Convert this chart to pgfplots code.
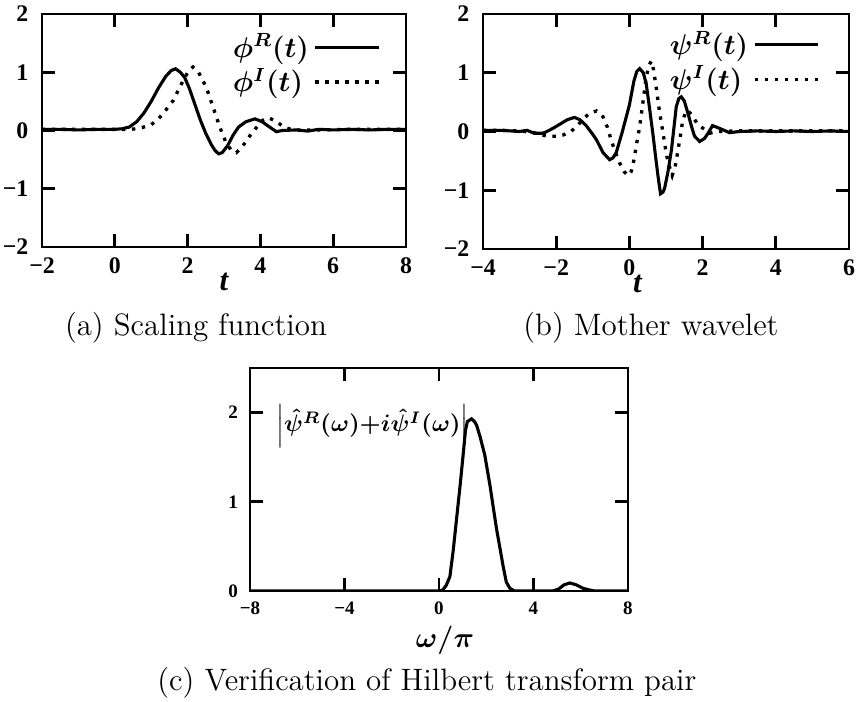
\documentclass[border=0pt]{standalone}
\usepackage{fontspec}
\usepackage{amsmath}
\usepackage{pgfplots}
\pgfplotsset{compat=1.18}
\newfontfamily\tnr{Liberation Serif}

% data
\pgfplotstableread{
x y
-2 0.02
-1.5 0.02
-1 0.01
-0.5 0.02
0 0.02
0.2 0.03
0.4 0.06
0.6 0.15
0.8 0.30
1.0 0.50
1.2 0.73
1.4 0.93
1.55 1.03
1.67 1.06
1.8 1.00
1.92 0.91
2.05 0.72
2.2 0.45
2.35 0.18
2.5 -0.05
2.65 -0.24
2.75 -0.34
2.85 -0.40
2.95 -0.38
3.1 -0.26
3.25 -0.08
3.4 0.06
3.6 0.15
3.85 0.20
4.05 0.15
4.25 0.06
4.44 -0.02
4.6 0.0
5.0 0.01
5.3 -0.01
5.6 0.02
6 0.01
6.5 0.02
7 0.01
7.5 0.02
8 0.02
}\phiR
\pgfplotstableread{
x y
-2 0.02
-1 0.02
0 0.02
0.4 0.02
0.6 0.03
0.8 0.06
1.0 0.10
1.2 0.20
1.4 0.35
1.6 0.51
1.8 0.76
1.92 0.91
2.05 1.04
2.15 1.09
2.3 1.00
2.45 0.82
2.56 0.66
2.7 0.40
2.89 0.05
3.05 -0.20
3.2 -0.34
3.34 -0.38
3.5 -0.28
3.7 -0.10
3.89 0.05
4.05 0.17
4.21 0.22
4.4 0.17
4.67 0.05
4.9 0.01
5.5 0.01
6.5 0.02
8 0.02
}\phiI
\pgfplotstableread{
x y
-4 0.02
-3.5 0.02
-3 0.0
-2.8 0.02
-2.6 -0.03
-2.4 -0.03
-2.32 -0.02
-2.1 0.05
-1.91 0.12
-1.7 0.20
-1.5 0.24
-1.35 0.20
-1.18 0.10
-1.0 -0.05
-0.9 -0.14
-0.72 -0.36
-0.54 -0.48
-0.45 -0.45
-0.36 -0.36
-0.2 -0.02
0.0 0.45
0.12 0.85
0.2 1.02
0.28 1.07
0.38 1.00
0.46 0.81
0.55 0.40
0.64 -0.03
0.72 -0.45
0.78 -0.75
0.85 -1.06
0.92 -1.03
0.96 -0.97
1.05 -0.70
1.15 -0.31
1.28 0.42
1.35 0.56
1.42 0.59
1.50 0.52
1.60 0.31
1.70 0.08
1.78 -0.08
1.92 -0.17
2.05 -0.12
2.15 -0.03
2.27 0.10
2.4 0.07
2.55 0.03
2.74 -0.02
3 0.0
3.5 0.01
4 0.0
4.5 0.01
5 0.0
5.5 0.01
6 0.0
}\psiR
\pgfplotstableread{
x y
-4 0.02
-3.5 0.02
-3 0.01
-2.6 -0.02
-2.4 -0.06
-2.2 -0.08
-2.0 -0.08
-1.81 -0.06
-1.6 0.0
-1.45 0.08
-1.25 0.22
-1.09 0.31
-0.9 0.35
-0.72 0.25
-0.6 0.07
-0.5 -0.14
-0.38 -0.36
-0.27 -0.53
-0.15 -0.68
-0.04 -0.75
0.05 -0.68
0.12 -0.50
0.2 -0.20
0.28 0.08
0.37 0.50
0.46 0.92
0.53 1.12
0.6 1.20
0.66 1.05
0.73 0.76
0.82 0.35
0.92 -0.03
1.0 -0.35
1.06 -0.53
1.17 -0.75
1.25 -0.60
1.33 -0.31
1.40 -0.05
1.46 0.20
1.56 0.36
1.65 0.32
1.73 0.25
1.85 0.14
2.0 0.06
2.19 -0.03
2.4 0.0
3 0.01
4 0.01
5 0.01
6 0.01
}\psiI
\pgfplotstableread{
x y
-8 0
-4 0
0 0
0.15 0.01
0.3 0.06
0.46 0.16
0.6 0.45
0.74 0.80
0.9 1.20
1.03 1.55
1.12 1.80
1.2 1.90
1.38 1.93
1.5 1.90
1.59 1.86
1.75 1.72
1.94 1.52
2.05 1.35
2.16 1.18
2.3 0.93
2.44 0.69
2.6 0.45
2.72 0.27
2.85 0.10
3.0 0.03
3.2 0
4.8 0
5.05 0.02
5.3 0.07
5.54 0.09
5.8 0.07
6.1 0.03
6.4 0.01
6.6 0
8 0
}\hilb

\pgfplotsset{
  wv/.style={
    scale only axis,
    axis line style={line width=1.1pt},
    tick align=inside,
    major tick length=5.5pt,
    tick style={draw=black, line width=1.1pt},
    tick label style={font=\tnr\bfseries\fontsize{10}{12}\selectfont},
    xticklabel style={anchor=center, yshift=-7.8pt},
    yticklabel style={anchor=east, xshift=-2.2pt},
    xlabel style={font=\tnr\bfseries\itshape\fontsize{13}{15}\selectfont,
      at={(axis description cs:0.5,0)}, anchor=center, yshift=-14.7pt},
  },
  solidcurve/.style={black, line width=1.3pt},
  dotcurve/.style={black, line width=1.4pt, dash pattern=on 1.4pt off 2.8pt},
}
\tikzset{tk/.style={black, line width=1.1pt}}

\begin{document}
\begin{tikzpicture}

% (a) scaling function
\begin{axis}[wv,
  at={(17.64pt,-103.74pt)}, width=152.88pt, height=97.86pt,
  xmin=-2, xmax=8, ymin=-2, ymax=2,
  xtick={-2,0,2,4,6,8}, xticklabels={−2,0,2,4,6,8},
  ytick={-2,-1,0,1,2}, yticklabels={−2,−1,0,1,2},
  xlabel={t},
  legend plot pos=right,
  legend cell align=left,
  legend image code/.code={\draw[#1] plot coordinates {(0pt,0pt) (13pt,0pt) (26.5pt,0pt)};},
  legend style={draw=none, fill=none, at={(0.95,0.783)}, anchor=east,
    font=\large, nodes={inner ysep=1.6pt, inner xsep=2pt}},
]
\pgfplotsinvokeforeach{0,2,4,6}{
  \draw[tk] (axis cs:#1,-2) -- ([yshift=5.5pt]axis cs:#1,-2);
  \draw[tk] (axis cs:#1,2) -- ([yshift=-5.5pt]axis cs:#1,2);
}
\pgfplotsinvokeforeach{-1,0,1}{
  \draw[tk] (axis cs:-2,#1) -- ([xshift=5.5pt]axis cs:-2,#1);
  \draw[tk] (axis cs:8,#1) -- ([xshift=-5.5pt]axis cs:8,#1);
}
\addplot[solidcurve] table {\phiR};
\addlegendentry{$\boldsymbol{\phi^{R}(t)}$}
\addplot[dotcurve] table {\phiI};
\addlegendentry{$\boldsymbol{\phi^{I}(t)}$}
\end{axis}

% (b) mother wavelet
\begin{axis}[wv,
  at={(202.86pt,-104.58pt)}, width=153.72pt, height=98.7pt,
  xmin=-4, xmax=6, ymin=-2, ymax=2,
  xtick={-4,-2,0,2,4,6}, xticklabels={−4,−2,0,2,4,6},
  ytick={-2,-1,0,1,2}, yticklabels={−2,−1,0,1,2},
  xlabel={t}, xlabel style={xshift=-12pt},
  legend plot pos=right,
  legend cell align=left,
  legend image code/.code={\draw[#1] plot coordinates {(0pt,0pt) (13pt,0pt) (26.5pt,0pt)};},
  legend style={draw=none, fill=none, at={(0.94,0.796)}, anchor=east,
    font=\large, nodes={inner ysep=1.6pt, inner xsep=2pt}},
]
\pgfplotsinvokeforeach{-2,0,2,4}{
  \draw[tk] (axis cs:#1,-2) -- ([yshift=5.5pt]axis cs:#1,-2);
  \draw[tk] (axis cs:#1,2) -- ([yshift=-5.5pt]axis cs:#1,2);
}
\pgfplotsinvokeforeach{-1,0,1}{
  \draw[tk] (axis cs:-4,#1) -- ([xshift=5.5pt]axis cs:-4,#1);
  \draw[tk] (axis cs:6,#1) -- ([xshift=-5.5pt]axis cs:6,#1);
}
\addplot[solidcurve] table {\psiR};
\addlegendentry{$\boldsymbol{\psi^{R}(t)}$}
\addplot[dotcurve] table {\psiI};
\addlegendentry{$\boldsymbol{\psi^{I}(t)}$}
\end{axis}

% (c) Hilbert pair check
\begin{axis}[wv,
  at={(105pt,-248.22pt)}, width=158.76pt, height=93.66pt,
  xmin=-8, xmax=8, ymin=0, ymax=2.5,
  clip mode=individual,
  xtick={-8,-4,0,4,8}, xticklabels={−8,−4,0,4,8},
  ytick={0,1,2}, yticklabels={0,1,2},
  tick label style={font=\tnr\bfseries\fontsize{8}{10}\selectfont},
  xticklabel style={yshift=0.6pt},
  yticklabel style={xshift=0.6pt},
  xlabel={$\boldsymbol{\omega/\pi}$},
  xlabel style={font=\large, xshift=2.5pt, yshift=-5.9pt},
]
\pgfplotsinvokeforeach{-4,0,4}{
  \draw[tk] (axis cs:#1,0) -- ([yshift=5.5pt]axis cs:#1,0);
  \draw[tk] (axis cs:#1,2.5) -- ([yshift=-5.5pt]axis cs:#1,2.5);
}
\pgfplotsinvokeforeach{1,2}{
  \draw[tk] (axis cs:-8,#1) -- ([xshift=5.5pt]axis cs:-8,#1);
  \draw[tk] (axis cs:8,#1) -- ([xshift=-5.5pt]axis cs:8,#1);
}
\addplot[solidcurve] table {\hilb};
\node[anchor=west, inner sep=0pt] at (axis description cs:0.068,0.74) {$\boldsymbol{\left\vert\hat{\psi}^{R}(\omega){+}i\hat{\psi}^{I}(\omega)\right\vert}$};
\end{axis}

% sub-captions
\node[anchor=base, font=\fontsize{13}{15}\selectfont] at (82.3pt,-140.7pt) {(a) Scaling function};
\node[anchor=base, font=\fontsize{13}{15}\selectfont] at (273.4pt,-140.7pt) {(b) Mother wavelet};
\node[anchor=base, font=\fontsize{13}{15}\selectfont] at (179.3pt,-289.8pt) {(c) Verification of Hilbert transform pair};

\pgfresetboundingbox
\path[use as bounding box] (0,0) rectangle (359.94pt,-294.84pt);
\end{tikzpicture}
\end{document}
